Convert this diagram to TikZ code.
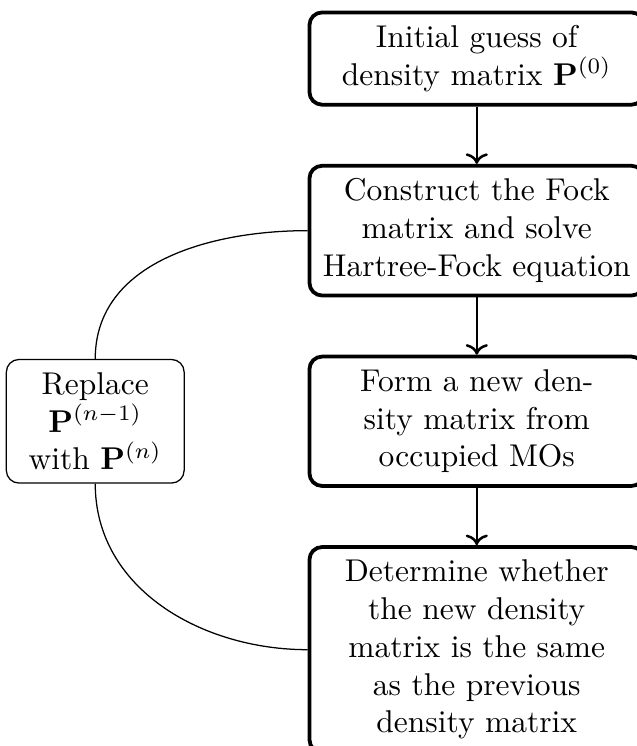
\documentclass[tikz,border=0pt]{standalone}
\usepackage{amsmath,amssymb}
\usetikzlibrary{arrows.meta,positioning}

\begin{document}
\begin{tikzpicture}[
  node distance=18.2pt and 39pt,
  stepbox/.style={rectangle,rounded corners,draw,very thick,inner ysep=4.1pt,text width=3.5cm,align=center},
  sidebox/.style={rectangle,rounded corners,draw,inner ysep=4.1pt,text width=1.75cm,align=center},
  flow/.style={->,thick}]
\useasboundingbox (-151.4pt,-218.3pt) rectangle (50.8pt,18.6pt);
\node[stepbox] (init) {Initial guess of\\density matrix $\mathbf{P}^{(0)}$};
\node[stepbox,below=of init] (fock) {Construct the Fock\\matrix and solve\\Hartree-Fock equation};
\node[stepbox,below=of fock] (dens) {Form a new den-\\sity matrix from\\occupied MOs};
\node[stepbox,below=of dens] (check) {Determine whether\\the new density\\matrix is the same\\as the previous\\density matrix};
\node[sidebox,left=of dens] (repl) {Replace\\$\mathbf{P}^{(n-1)}$\\with $\mathbf{P}^{(n)}$};
\draw[flow] (init) -- (fock);
\draw[flow] (fock) -- (dens);
\draw[flow] (dens) -- (check);
\draw (repl.north) to[out=90,in=180] (fock.west);
\draw (repl.south) to[out=-90,in=180] (check.west);
\end{tikzpicture}
\end{document}
